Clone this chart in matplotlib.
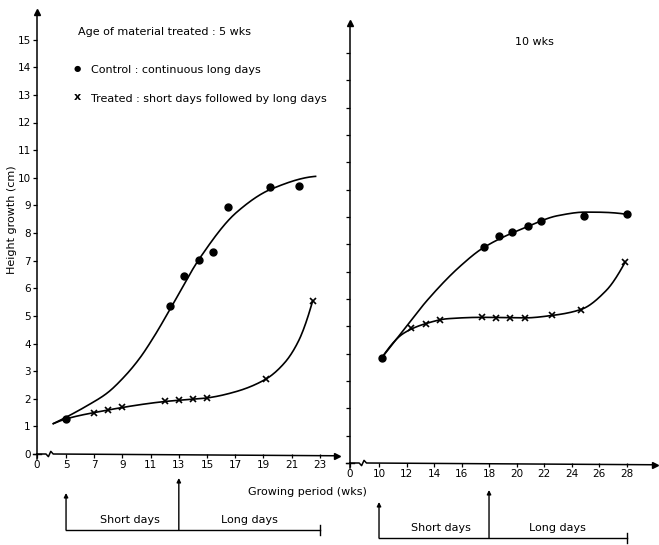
import numpy as np
import matplotlib
matplotlib.use("Agg")
import matplotlib.pyplot as plt
from matplotlib.transforms import blended_transform_factory

# ---------------- data ----------------
# Left panel: material treated at 5 weeks
left_ctrl_x = [5, 12.4, 13.4, 14.4, 15.4, 16.5, 19.5, 21.5]
left_ctrl_y = [1.27, 5.35, 6.45, 7.02, 7.3, 8.95, 9.65, 9.7]
left_trt_x = [7, 8, 9, 12, 13, 14, 15, 19.2, 22.5]
left_trt_y = [1.5, 1.58, 1.71, 1.93, 1.94, 1.99, 2.03, 2.72, 5.55]
# hand-fitted curves (left)
left_ctrl_curve_x = [4.1, 5, 6.5, 7.9, 9.1, 10.2, 11.3, 12.5, 14.5, 17.1, 19.6, 22.7]
left_ctrl_curve_y = [1.1, 1.33, 1.75, 2.2, 2.78, 3.45, 4.3, 5.35, 7.1, 8.75, 9.6, 10.05]
left_trt_curve_x = [4.1, 5, 7, 12, 15, 17, 19.2, 20.5, 21.5, 22.5]
left_trt_curve_y = [1.1, 1.27, 1.5, 1.9, 2.03, 2.25, 2.72, 3.3, 4.1, 5.55]

# Right panel: material treated at 10 weeks
right_ctrl_x = [10.2, 17.6, 18.7, 19.7, 20.8, 21.8, 24.9, 28.0]
right_ctrl_y = [3.85, 7.9, 8.3, 8.47, 8.68, 8.85, 9.02, 9.1]
right_trt_x = [12.3, 13.4, 14.4, 17.5, 18.5, 19.5, 20.6, 22.6, 24.7, 27.9]
right_trt_y = [4.93, 5.08, 5.24, 5.33, 5.3, 5.3, 5.3, 5.41, 5.6, 7.35]
right_ctrl_curve_x = [10.2, 12.0, 13.5, 15.9, 17.6, 20.8, 23.0, 25.0, 28.0]
right_ctrl_curve_y = [3.85, 5.0, 5.95, 7.2, 7.88, 8.65, 9.05, 9.18, 9.1]
right_trt_curve_x = [10.2, 11.8, 13.4, 15.0, 17.5, 20.6, 22.6, 24.7, 26.5, 27.9]
right_trt_curve_y = [3.85, 4.75, 5.1, 5.28, 5.33, 5.31, 5.4, 5.62, 6.3, 7.35]

left_xticks = [5, 7, 9, 11, 13, 15, 17, 19, 21, 23]
right_xticks = [10, 12, 14, 16, 18, 20, 22, 24, 26, 28]
yticks = list(range(0, 16))

# photoperiod schedule (weeks)
left_short_start, left_long_start, left_end = 5, 13, 23
right_short_start, right_long_start, right_end = 10, 18, 28

title_left = "Age of material treated : 5 wks"
title_right = "10 wks"
legend_ctrl = "Control : continuous long days"
legend_trt = "Treated : short days followed by long days"


# ---------------- helpers ----------------
def pchip(xs, ys, n=300):
    """Shape-preserving cubic through the hand-drawn curve anchors."""
    x = np.asarray(xs, float)
    y = np.asarray(ys, float)
    m = len(x)
    h = np.diff(x)
    dl = np.diff(y) / h
    d = np.zeros(m)
    for k in range(1, m - 1):
        if dl[k - 1] * dl[k] > 0:
            w1 = 2 * h[k] + h[k - 1]
            w2 = h[k] + 2 * h[k - 1]
            d[k] = (w1 + w2) / (w1 / dl[k - 1] + w2 / dl[k])

    def end(h0, h1, d0, d1):
        v = ((2 * h0 + h1) * d0 - h0 * d1) / (h0 + h1)
        if np.sign(v) != np.sign(d0):
            v = 0.0
        elif np.sign(d0) != np.sign(d1) and abs(v) > abs(3 * d0):
            v = 3 * d0
        return v

    d[0] = end(h[0], h[1], dl[0], dl[1])
    d[-1] = end(h[-1], h[-2], dl[-1], dl[-2])
    xx = np.linspace(x[0], x[-1], n)
    idx = np.clip(np.searchsorted(x, xx) - 1, 0, m - 2)
    t = (xx - x[idx]) / h[idx]
    h00 = 2 * t ** 3 - 3 * t ** 2 + 1
    h10 = t ** 3 - 2 * t ** 2 + t
    h01 = -2 * t ** 3 + 3 * t ** 2
    h11 = t ** 3 - t ** 2
    yy = h00 * y[idx] + h10 * h[idx] * d[idx] + h01 * y[idx + 1] + h11 * h[idx] * d[idx + 1]
    return xx, yy


W, H = 659, 545
plt.rcParams['font.family'] = ['DejaVu Sans']
fig = plt.figure(figsize=(W / 100, H / 100), dpi=100)


def px_axes(l, r, b, t):
    return fig.add_axes([l / W, 1 - b / H, (r - l) / W, (b - t) / H])


FS = 7.5


def style_axes(ax, xticks, xlim, ylim, ylabels):
    ax.set_xlim(*xlim)
    ax.set_ylim(*ylim)
    for s in ['top', 'right', 'bottom']:
        ax.spines[s].set_visible(False)
    ax.spines['left'].set_linewidth(1.1)
    ax.set_xticks([xlim[0]] + xticks)
    ax.set_xticklabels(['0'] + [str(v) for v in xticks], fontsize=FS)
    ax.set_yticks(yticks)
    if ylabels:
        ax.set_yticklabels([str(v) for v in yticks], fontsize=FS)
    else:
        ax.set_yticklabels([])
    ax.tick_params(axis='both', direction='out', length=3, width=0.9, pad=1.5)
    tr = ax.transAxes
    a, dd, hh = 0.03, 0.008, 0.006
    ax.plot([0, a, a + dd, a + 2 * dd, a + 3 * dd, 1.0], [0, 0, -hh, hh, 0, -0.004],
            transform=tr, color='black', lw=1.1, clip_on=False)
    ax.plot([1.0], [-0.004], marker='>', ms=4, color='black', transform=tr, clip_on=False)
    ax.plot([0], [1.0], marker='^', ms=4, color='black', transform=tr, clip_on=False)
    ax.plot([0, 0], [-0.012, 0], transform=tr, color='black', lw=1.1, clip_on=False)
    ax.plot([-0.012, 0.012], [0, 0], transform=tr, color='black', lw=1.0, clip_on=False)


def draw_panel(ax, ccx, ccy, tcx, tcy, cx, cy, tx, ty):
    xs, ys = pchip(ccx, ccy)
    ax.plot(xs, ys, color='black', lw=1.2)
    xs, ys = pchip(tcx, tcy)
    ax.plot(xs, ys, color='black', lw=1.2)
    ax.plot(cx, cy, 'o', color='black', ms=5, clip_on=False)
    ax.plot(tx, ty, 'x', color='black', ms=4.5, mew=1.2, clip_on=False)


# ---------------- left panel ----------------
axL = px_axes(37, 337, 454, 12)
style_axes(axL, left_xticks, (2.94, 24.22), (0, 16.0), True)
draw_panel(axL, left_ctrl_curve_x, left_ctrl_curve_y, left_trt_curve_x, left_trt_curve_y,
           left_ctrl_x, left_ctrl_y, left_trt_x, left_trt_y)
axL.set_ylabel("Height growth (cm)", fontsize=8)
axL.yaxis.set_label_coords(-0.068, 0.53)

# ---------------- right panel ----------------
axR = px_axes(350, 655, 463, 23)
style_axes(axR, right_xticks, (7.89, 30.07), (0, 16.1), False)
draw_panel(axR, right_ctrl_curve_x, right_ctrl_curve_y, right_trt_curve_x, right_trt_curve_y,
           right_ctrl_x, right_ctrl_y, right_trt_x, right_trt_y)

# ---------------- texts ----------------
fig.text(78 / W, 1 - 32 / H, title_left, fontsize=8, va='center', ha='left')
fig.text(515 / W, 1 - 42 / H, title_right, fontsize=8, va='center', ha='left')
fig.text(77 / W, 1 - 68 / H, "\u25CF", fontsize=6, va='center', ha='center')
fig.text(91 / W, 1 - 70 / H, legend_ctrl, fontsize=8, va='center', ha='left')
fig.text(77 / W, 1 - 97 / H, "x", fontsize=8, va='center', ha='center', fontweight='bold')
fig.text(91 / W, 1 - 99 / H, legend_trt, fontsize=8, va='center', ha='left')
fig.text(307 / W, 1 - 492 / H, "Growing period (wks)", fontsize=8, va='center', ha='center')


# ---------------- photoperiod schedule ----------------
def schedule(ax, s0, s1, e, y_line, y_top0, y_top1, y_text):
    trb = blended_transform_factory(ax.transData, fig.transFigure)
    yl = 1 - y_line / H
    ax.plot([s0, e], [yl, yl], color='black', lw=1.0, transform=trb, clip_on=False)
    ax.plot([e, e], [yl - 5 / H, yl + 5 / H], color='black', lw=1.0, transform=trb, clip_on=False)
    for xv, yt in [(s0, y_top0), (s1, y_top1)]:
        ax.annotate('', xy=(xv, 1 - yt / H), xytext=(xv, yl),
                    xycoords=('data', 'figure fraction'), textcoords=('data', 'figure fraction'),
                    arrowprops=dict(arrowstyle='-|>', color='black', lw=1.0,
                                    mutation_scale=6, shrinkA=0, shrinkB=0),
                    annotation_clip=False)
    ax.text((s0 + s1) / 2 + 0.5, 1 - y_text / H, "Short days", transform=trb,
            fontsize=8, ha='center', va='center')
    ax.text((s1 + e) / 2, 1 - y_text / H, "Long days", transform=trb,
            fontsize=8, ha='center', va='center')


schedule(axL, left_short_start, left_long_start, left_end, 530, 493, 478, 520)
schedule(axR, right_short_start, right_long_start, right_end, 538, 502, 490, 528)

fig.savefig("out.png", dpi=100)
